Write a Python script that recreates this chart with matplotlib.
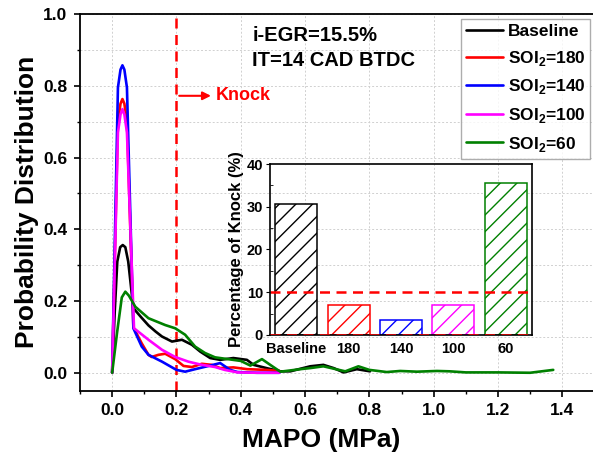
import matplotlib
matplotlib.use("Agg")
import matplotlib.pyplot as plt
from matplotlib.ticker import MultipleLocator

plt.rcParams['font.family'] = ['Liberation Sans', 'DejaVu Sans']
plt.rcParams['font.weight'] = 'bold'
plt.rcParams['mathtext.fontset'] = 'custom'
plt.rcParams['mathtext.bf'] = 'Liberation Sans:bold'
plt.rcParams['mathtext.rm'] = 'Liberation Sans:bold'
plt.rcParams['hatch.linewidth'] = 1.0

# ---------------- data ----------------
base_x = [0, 0.008, 0.016, 0.025, 0.033, 0.041, 0.05, 0.066, 0.09, 0.113, 0.135, 0.155, 0.186, 0.217, 0.248,
          0.274, 0.305, 0.336, 0.377, 0.419, 0.44, 0.48, 0.523, 0.554, 0.616, 0.657, 0.689, 0.72, 0.761, 0.802]
base_y = [0, 0.17, 0.31, 0.35, 0.356, 0.35, 0.31, 0.180, 0.155, 0.132, 0.115, 0.101, 0.087, 0.092, 0.078,
          0.059, 0.041, 0.036, 0.041, 0.036, 0.022, 0.013, 0.004, 0.004, 0.018, 0.022, 0.013, 0.001, 0.010, 0.004]

s180_x = [0, 0.018, 0.026, 0.032, 0.038, 0.046, 0.066, 0.092, 0.113, 0.123, 0.144, 0.165, 0.196, 0.222, 0.248,
          0.279, 0.31, 0.336, 0.377, 0.42, 0.48, 0.52]
s180_y = [0, 0.70, 0.75, 0.763, 0.75, 0.70, 0.127, 0.082, 0.050, 0.044, 0.050, 0.053, 0.038, 0.019, 0.016,
          0.025, 0.022, 0.013, 0.015, 0.010, 0.008, 0.005]

s140_x = [0, 0.018, 0.026, 0.032, 0.038, 0.046, 0.066, 0.092, 0.113, 0.155, 0.2, 0.227, 0.258, 0.3, 0.336,
          0.367, 0.39, 0.45, 0.52]
s140_y = [0, 0.795, 0.845, 0.857, 0.845, 0.795, 0.124, 0.073, 0.050, 0.031, 0.008, 0.003, 0.010, 0.019, 0.027,
          0.008, 0.002, 0.0, 0.0]

s100_x = [0, 0.018, 0.026, 0.032, 0.038, 0.046, 0.068, 0.113, 0.155, 0.196, 0.237, 0.279, 0.32, 0.35, 0.39,
          0.45, 0.52]
s100_y = [0, 0.67, 0.72, 0.735, 0.72, 0.67, 0.124, 0.092, 0.064, 0.044, 0.031, 0.022, 0.016, 0.008, 0.001,
          0.0, 0.0]

s60_x = [0, 0.015, 0.03, 0.041, 0.052, 0.072, 0.113, 0.165, 0.196, 0.227, 0.258, 0.289, 0.32, 0.36, 0.4,
         0.43, 0.466, 0.495, 0.523, 0.585, 0.616, 0.657, 0.725, 0.766, 0.8, 0.854, 0.896, 0.948, 1.01,
         1.05, 1.1, 1.2, 1.3, 1.372]
s60_y = [0, 0.11, 0.21, 0.226, 0.215, 0.184, 0.152, 0.133, 0.124, 0.106, 0.073, 0.055, 0.043, 0.038, 0.033,
         0.020, 0.038, 0.020, 0.003, 0.010, 0.013, 0.018, 0.004, 0.018, 0.008, 0.002, 0.005, 0.003, 0.005,
         0.004, 0.001, 0.001, 0.0, 0.008]

series_x = [base_x, s180_x, s140_x, s100_x, s60_x]
series_y = [base_y, s180_y, s140_y, s100_y, s60_y]
labels = ['Baseline', r'SOI$_\mathbf{2}$=180', r'SOI$_\mathbf{2}$=140', r'SOI$_\mathbf{2}$=100', r'SOI$_\mathbf{2}$=60']
colors = ['black', '#ff0000', '#0000ff', '#ff00ff', '#008000']

bar_cats = ['Baseline', '180', '140', '100', '60']
knock_pct = [30.6, 7.0, 3.5, 7.0, 35.6]

# ---------------- figure ----------------
fig = plt.figure(figsize=(5.93, 4.55), dpi=100)
W, H = 593, 455
ax = fig.add_axes([80 / W, 1 - 390.7 / H, 514.4 / W, 376.7 / H])

for x, y, c, l in zip(series_x, series_y, colors, labels):
    ax.plot(x, y, color=c, lw=1.9, label=l, solid_joinstyle='round', solid_capstyle='round')

ax.set_xlim(-0.1, 1.5)
ax.set_ylim(-0.05, 1.0)
ax.xaxis.set_major_locator(MultipleLocator(0.2))
ax.xaxis.set_minor_locator(MultipleLocator(0.1))
ax.yaxis.set_major_locator(MultipleLocator(0.2))
ax.yaxis.set_minor_locator(MultipleLocator(0.1))
ax.grid(True, which='major', axis='x', color='#d0d0d0', ls=(0, (2, 2)), lw=0.7)
ax.grid(True, which='both', axis='y', color='#d0d0d0', ls=(0, (2, 2)), lw=0.7)
ax.set_axisbelow(True)
ax.tick_params(which='major', direction='out', length=4, width=1.2, labelsize=12.5, pad=5)
ax.tick_params(which='minor', direction='out', length=2.5, width=1.0)
for s in ax.spines.values():
    s.set_linewidth(1.3)
ax.set_xticks([0.0, 0.2, 0.4, 0.6, 0.8, 1.0, 1.2, 1.4])
ax.set_xticklabels(['0.0', '0.2', '0.4', '0.6', '0.8', '1.0', '1.2', '1.4'], fontweight='bold')
ax.set_yticks([0.0, 0.2, 0.4, 0.6, 0.8, 1.0])
ax.set_yticklabels(['0.0', '0.2', '0.4', '0.6', '0.8', '1.0'], fontweight='bold')

ax.set_xlabel('MAPO (MPa)', fontsize=19, fontweight='bold')
ax.xaxis.set_label_coords(0.468, -0.098)
ax.set_ylabel('Probability Distribution', fontsize=19, fontweight='bold')
ax.yaxis.set_label_coords(-0.08, 0.5)

ax.axvline(0.2, color='#ff0000', ls=(0, (4, 2.6)), lw=1.8, zorder=1)
ax.annotate('', xy=(0.316, 0.772), xytext=(0.2, 0.772),
            arrowprops=dict(arrowstyle='-|>', color='#ff0000', lw=1.5, mutation_scale=12))
ax.text(0.323, 0.772, 'Knock', color='#ff0000', fontsize=13, fontweight='bold', va='center', ha='left')

ax.text(0.436, 0.939, 'i-EGR=15.5%', fontsize=14.5, fontweight='bold', va='center', ha='left')
ax.text(0.436, 0.869, 'IT=14 CAD BTDC', fontsize=14.5, fontweight='bold', va='center', ha='left')

leg = fig.legend(loc='upper left', bbox_to_anchor=(461 / W, 1 - 19 / H), prop={'size': 12.5, 'weight': 'bold'},
                 frameon=True, fancybox=False, edgecolor='#999999', handlelength=2.1, handletextpad=0.28,
                 labelspacing=0.55, borderpad=0.3, borderaxespad=0)
leg.get_frame().set_linewidth(1.0)

# ---------------- inset ----------------
ins = fig.add_axes([270 / W, 1 - 335 / H, 262 / W, 171 / H])
ins.patch.set_alpha(0)
pos = list(range(len(bar_cats)))
ins.bar(pos, knock_pct, width=0.8, facecolor='white', edgecolor=colors, hatch='//', lw=1.1)
ins.axhline(10, color='#ff0000', ls=(0, (4, 2.6)), lw=1.8)
ins.axhline(0, color='#ff0000', ls=(0, (4, 2.6)), lw=1.8, zorder=5)
ins.set_xlim(-0.5, 4.5)
ins.set_ylim(0, 40)
ins.set_xticks(pos)
ins.set_xticklabels(bar_cats, fontsize=10.5, fontweight='bold')
ins.tick_params(axis='x', length=0, pad=5)
ins.yaxis.set_major_locator(MultipleLocator(10))
ins.yaxis.set_minor_locator(MultipleLocator(5))
ins.tick_params(axis='y', which='major', direction='out', length=3, labelsize=10.5, pad=2)
ins.tick_params(axis='y', which='minor', direction='in', length=2)
for t in ins.get_yticklabels():
    t.set_fontweight('bold')
for s in ins.spines.values():
    s.set_linewidth(1.2)
ins.set_ylabel('Percentage of Knock (%)', fontsize=12, fontweight='bold', labelpad=2)

fig.savefig('out.png', dpi=100)
